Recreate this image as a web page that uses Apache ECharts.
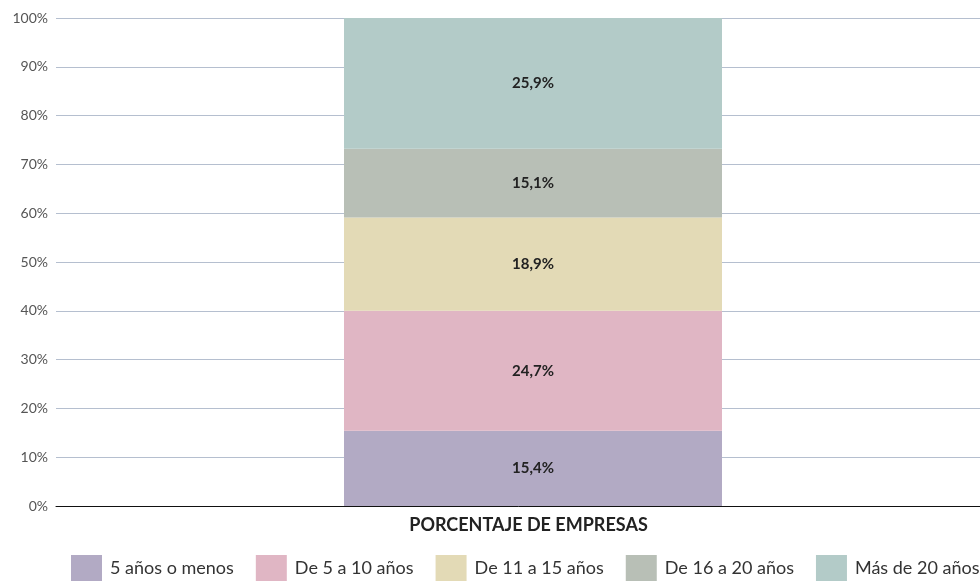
<!DOCTYPE html>
<html>
<head>
<meta charset="utf-8">
<script src="https://cdn.jsdelivr.net/npm/echarts@6/dist/echarts.min.js"></script>
<style>html,body{margin:0;padding:0;background:#fff}#c{width:980px;height:581px}</style>
</head>
<body>
<div id="c"></div>
<script>
const categories = ['PORCENTAJE DE EMPRESAS'];
const seriesNames = ['5 años o menos', 'De 5 a 10 años', 'De 11 a 15 años', 'De 16 a 20 años', 'Más de 20 años'];
// segment heights as drawn in the picture (percent)
const seriesValues = [[15.4], [24.6], [19.1], [14.1], [26.8]];
// value labels as printed in the picture
const labelTexts = ['15,4%', '24,7%', '18,9%', '15,1%', '25,9%'];
const colors = ['#b2aac4', '#e0b6c4', '#e3dab6', '#b8bfb6', '#b3cbc8'];
const yTicks = [0, 10, 20, 30, 40, 50, 60, 70, 80, 90, 100];

const chart = echarts.init(document.getElementById('c'));
chart.setOption({
  animation: false,
  textStyle: { fontFamily: 'Lato' },
  grid: { left: 56, top: 18, bottom: 75, width: 954, outerBoundsMode: 'none', containLabel: false },
  legend: {
    left: 71, top: 555, padding: 0, width: 1400,
    itemWidth: 31, itemHeight: 26, itemGap: 22,
    icon: 'rect',
    textStyle: { fontSize: 18, color: '#333', fontFamily: 'Lato', padding: [10, 0, 0, 3] },
    data: seriesNames
  },
  xAxis: {
    type: 'category', data: categories,
    axisTick: { show: false },
    axisLine: { lineStyle: { color: '#111', width: 1 } },
    axisLabel: { fontSize: 18, fontWeight: 'bold', color: '#222', margin: 10, fontFamily: 'Lato', padding: [0, 9, 0, 0] }
  },
  yAxis: {
    type: 'value', min: yTicks[0], max: yTicks[yTicks.length - 1], interval: 10,
    axisLabel: { formatter: '{value}%', fontSize: 14, color: '#555', margin: 8, fontFamily: 'Lato' },
    splitLine: { lineStyle: { color: '#b5bfcf', width: 1 } },
    axisLine: { show: false }, axisTick: { show: false }
  },
  series: seriesNames.map((n, i) => ({
    name: n, type: 'bar', stack: 'total', barWidth: 378,
    itemStyle: { color: colors[i] },
    label: {
      show: true, position: 'inside', fontSize: 15, fontWeight: 'bold', color: '#222', fontFamily: 'Lato',
      formatter: () => labelTexts[i]
    },
    data: seriesValues[i]
  }))
});
</script>
</body>
</html>
